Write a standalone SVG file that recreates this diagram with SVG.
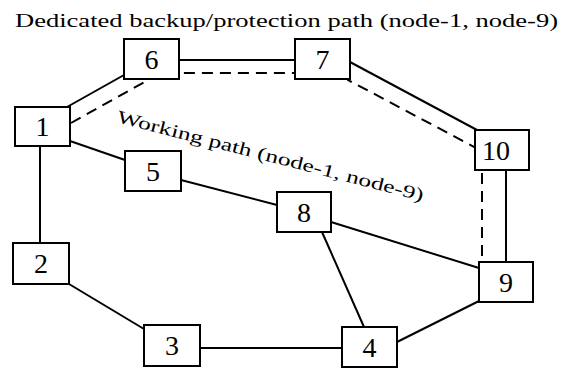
<svg xmlns="http://www.w3.org/2000/svg" width="563" height="369" viewBox="0 0 563 369">
  <style>
    .box { fill: #fff; stroke: #000; stroke-width: 2; }
    .lbl { font-family: "Liberation Serif", "DejaVu Serif", serif; font-size: 28px; text-anchor: middle; fill: #000; }
    .link { fill: none; stroke: #000; stroke-width: 2; }
    .dash { fill: none; stroke: #000; stroke-width: 2; stroke-dasharray: 11 7; }
    .cap { font-family: "Liberation Serif", "DejaVu Serif", serif; font-size: 18px; fill: #000; }
  </style>
  <rect width="563" height="369" fill="#fff"/>

  <text class="cap" x="15" y="27" textLength="543" lengthAdjust="spacingAndGlyphs">Dedicated  backup/protection path (node-1, node-9)</text>

  <g id="connectors">
    <line class="link" x1="67" y1="107" x2="124" y2="75"/>
    <line class="link" x1="179" y1="60" x2="295" y2="60"/>
    <line class="link" x1="350" y1="62" x2="477" y2="130"/>
    <line class="link" x1="506" y1="170" x2="506" y2="262"/>
    <line class="link" x1="70" y1="141" x2="125" y2="160"/>
    <line class="link" x1="181" y1="180" x2="277" y2="205"/>
    <line class="link" x1="331" y1="222" x2="479" y2="268"/>
    <line class="link" x1="322" y1="232" x2="364" y2="327"/>
    <line class="link" x1="479" y1="301" x2="397" y2="342"/>
    <line class="link" x1="200" y1="348" x2="342" y2="348"/>
    <line class="link" x1="69" y1="284" x2="144" y2="329"/>
    <line class="link" x1="40" y1="146" x2="40" y2="243"/>
    <polyline class="dash" points="71,123 157,75 160,73 345,73 348,80 478,149 482,152 482,262"/>
  </g>

  <text class="cap" transform="translate(116,122) rotate(14.5)" textLength="316" lengthAdjust="spacingAndGlyphs">Working path (node-1, node-9)</text>

  <g id="node-1"><rect class="box" x="15" y="107" width="55" height="39"/><text class="lbl" x="42.5" y="136">1</text></g>
  <g id="node-2"><rect class="box" x="13" y="243" width="56" height="41"/><text class="lbl" x="41" y="273">2</text></g>
  <g id="node-3"><rect class="box" x="144" y="325" width="56" height="41"/><text class="lbl" x="172" y="355">3</text></g>
  <g id="node-4"><rect class="box" x="342" y="327" width="55" height="40"/><text class="lbl" x="369.5" y="357">4</text></g>
  <g id="node-5"><rect class="box" x="125" y="151" width="56" height="40"/><text class="lbl" x="153" y="181">5</text></g>
  <g id="node-6"><rect class="box" x="124" y="39" width="55" height="40"/><text class="lbl" x="151.5" y="69">6</text></g>
  <g id="node-7"><rect class="box" x="295" y="39" width="55" height="40"/><text class="lbl" x="322.5" y="69">7</text></g>
  <g id="node-8"><rect class="box" x="277" y="192" width="54" height="40"/><text class="lbl" x="304" y="222">8</text></g>
  <g id="node-9"><rect class="box" x="479" y="262" width="54" height="40"/><text class="lbl" x="506" y="292">9</text></g>
  <g id="node-10"><rect class="box" x="475" y="130" width="54" height="40"/><text class="lbl" x="496" y="160">10</text></g>
</svg>
